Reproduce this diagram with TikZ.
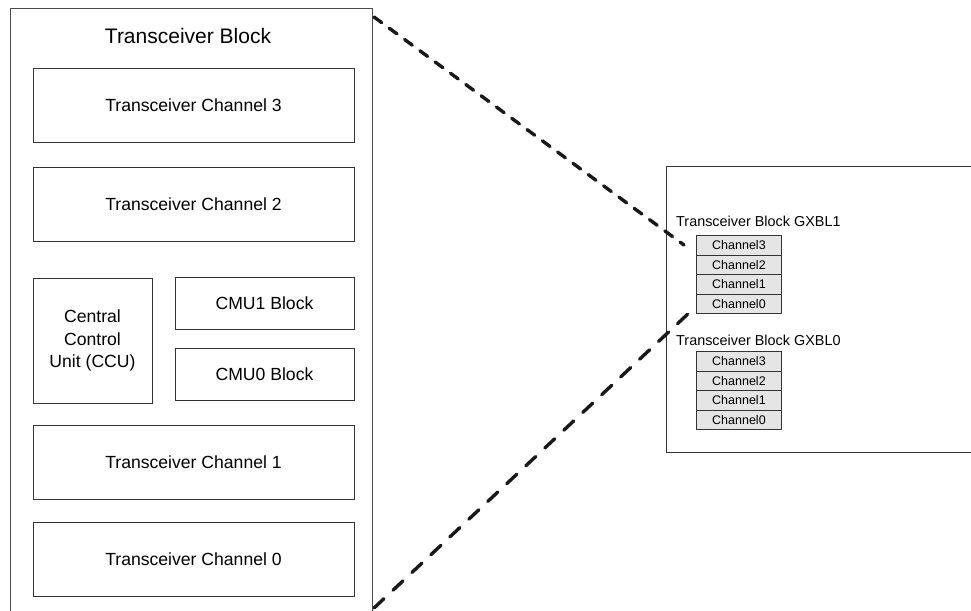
\documentclass[tikz,border=0pt]{standalone}
\usepackage{fontspec}
\setmainfont{Liberation Sans}
\begin{document}
\begin{tikzpicture}[x=1pt,y=-1pt,
  box/.style={draw=black!80,line width=0.9pt,fill=white,inner sep=0pt,align=center},
  chan/.style={draw=black!80,line width=0.9pt,fill=black!10,inner sep=0pt,minimum width=85pt,font=\fontsize{12.5}{14}\selectfont},
  lbl/.style={font=\fontsize{17.6}{22.5}\selectfont},
  link/.style={line width=3.4pt,line cap=round,black!90}]
\useasboundingbox (0,0) rectangle (971,610);
\clip (0,0) rectangle (971,610);
% outer transceiver block
\node[box,draw=black!70,line width=1.1pt,minimum width=362pt,minimum height=620pt,anchor=north west] (outer) at (10,8) {};
\node[font=\fontsize{21}{24}\selectfont] (title) at (188,36) {Transceiver Block};
\node[box,lbl,minimum width=321pt,minimum height=74pt] (ch3) at (193.5,105) {Transceiver Channel 3};
\node[box,lbl,minimum width=321pt,minimum height=74pt] (ch2) at (193.5,204) {Transceiver Channel 2};
\node[box,lbl,minimum width=119pt,minimum height=125pt] (ccu) at (92.5,340.5) {Central\\Control\\Unit (CCU)};
\node[box,lbl,minimum width=179pt,minimum height=52pt] (cmu1) at (264.5,303) {CMU1 Block};
\node[box,lbl,minimum width=179pt,minimum height=52pt] (cmu0) at (264.5,374) {CMU0 Block};
\node[box,lbl,minimum width=321pt,minimum height=74pt] (ch1) at (193.5,462) {Transceiver Channel 1};
\node[box,lbl,minimum width=321pt,minimum height=74pt] (ch0) at (193.5,559) {Transceiver Channel 0};
% right device view
\node[box,minimum width=320pt,minimum height=286pt,anchor=north west] (dev) at (666,166) {};
\node[font=\fontsize{14.4}{16}\selectfont,anchor=west,inner sep=0pt] (gx1) at (676,221) {Transceiver Block GXBL1};
\node[chan,minimum height=20pt,anchor=north west] (a3) at (696,235) {Channel3};
\node[chan,minimum height=19pt,anchor=north west] (a2) at (696,255) {Channel2};
\node[chan,minimum height=20pt,anchor=north west] (a1) at (696,274) {Channel1};
\node[chan,minimum height=19pt,anchor=north west] (a0) at (696,294) {Channel0};
\node[font=\fontsize{14.4}{16}\selectfont,anchor=west,inner sep=0pt] (gx0) at (676,340) {Transceiver Block GXBL0};
\node[chan,minimum height=20pt,anchor=north west] (b3) at (696,351) {Channel3};
\node[chan,minimum height=19pt,anchor=north west] (b2) at (696,371) {Channel2};
\node[chan,minimum height=20pt,anchor=north west] (b1) at (696,390) {Channel1};
\node[chan,minimum height=19pt,anchor=north west] (b0) at (696,410) {Channel0};
% connectors
\coordinate (u0) at (374,17);
\coordinate (u1) at (684,245);
\coordinate (l0) at (374,608);
\coordinate (l1) at (690,312);
\draw[link,dash pattern=on 9.5pt off 9.5pt] (u0) -- (u1);
\draw[link,dash pattern=on 13.6pt off 12.4pt] (l0) -- (l1);
\end{tikzpicture}
\end{document}
